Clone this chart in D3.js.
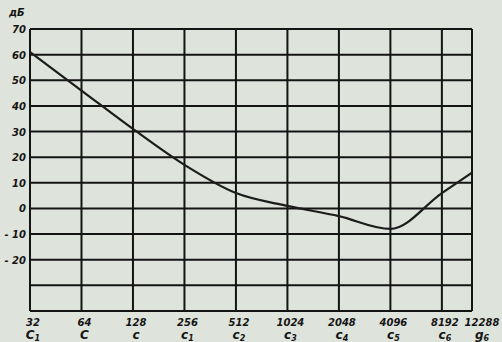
<!DOCTYPE html>
<html>
<head>
<meta charset="utf-8">
<script src="https://cdn.jsdelivr.net/npm/d3@7"></script>
<style>
  body { margin: 0; background: #dee3db; }
  svg { display: block; }
  .lbl { font-family: "DejaVu Sans", sans-serif; font-weight: bold; font-style: italic; fill: #151515; }
</style>
</head>
<body>
<svg id="chart" width="502" height="342"></svg>
<script>
// frequency ticks (Hz) and note names under them
const freqs = [32, 64, 128, 256, 512, 1024, 2048, 4096, 8192, 12288];
const notes = [["C", "1"], ["C", ""], ["c", ""], ["c", "1"], ["c", "2"], ["c", "3"], ["c", "4"], ["c", "5"], ["c", "6"], ["g", "6"]];
// response curve, dB read at each frequency
const levels = [61, 46, 31, 17, 6, 1, -3, -8, 6, 14];
const yTicks = [70, 60, 50, 40, 30, 20, 10, 0, -10, -20, -30, -40];
const yLabelled = [70, 60, 50, 40, 30, 20, 10, 0, -10, -20];

const svg = d3.select('#chart');
const margin = { top: 29, right: 30, bottom: 31, left: 30 };
const width = 502, height = 342;

const x = d3.scaleLog().base(2)
  .domain([32, 12288])
  .range([margin.left, width - margin.right]);
const y = d3.scaleLinear()
  .domain([-40, 70])
  .range([height - margin.bottom, margin.top]);

const grid = svg.append('g')
  .attr('stroke', '#141414')
  .attr('stroke-width', 2);

grid.selectAll('line.h')
  .data(yTicks)
  .enter().append('line')
    .attr('class', 'h')
    .attr('x1', x(32)).attr('x2', x(12288))
    .attr('y1', d => y(d)).attr('y2', d => y(d));

grid.selectAll('line.v')
  .data(freqs)
  .enter().append('line')
    .attr('class', 'v')
    .attr('x1', d => x(d)).attr('x2', d => x(d))
    .attr('y1', y(70)).attr('y2', y(-40));

// y labels
svg.selectAll('text.y')
  .data(yLabelled)
  .enter().append('text')
    .attr('class', 'lbl y')
    .attr('x', margin.left - 4)
    .attr('y', d => y(d) + 4)
    .attr('text-anchor', 'end')
    .attr('font-size', 10)
    .text(d => d < 0 ? '- ' + Math.abs(d) : d);

svg.append('text')
  .attr('class', 'lbl')
  .attr('x', 9).attr('y', 16)
  .attr('font-size', 10)
  .text('дБ');

// x labels: frequency then note
svg.selectAll('text.f')
  .data(freqs)
  .enter().append('text')
    .attr('class', 'lbl f')
    .attr('x', d => x(d) + (d === 12288 ? 10 : 3))
    .attr('y', 326)
    .attr('text-anchor', 'middle')
    .attr('font-size', 10)
    .text(d => d);

const noteText = svg.selectAll('text.n')
  .data(freqs)
  .enter().append('text')
    .attr('class', 'lbl n')
    .attr('x', (d, i) => x(d) + (d === 12288 ? 10 : 3))
    .attr('y', 339)
    .attr('text-anchor', 'middle')
    .attr('font-size', 12);
noteText.append('tspan').text((d, i) => notes[i][0]);
noteText.append('tspan')
  .attr('font-size', 8)
  .attr('dy', 2)
  .text((d, i) => notes[i][1]);

// curve
const line = d3.line()
  .x((d, i) => x(freqs[i]))
  .y(d => y(d))
  .curve(d3.curveMonotoneX);

svg.append('path')
  .datum(levels)
  .attr('d', line)
  .attr('fill', 'none')
  .attr('stroke', '#1c1c1c')
  .attr('stroke-width', 2.2);
</script>
</body>
</html>
